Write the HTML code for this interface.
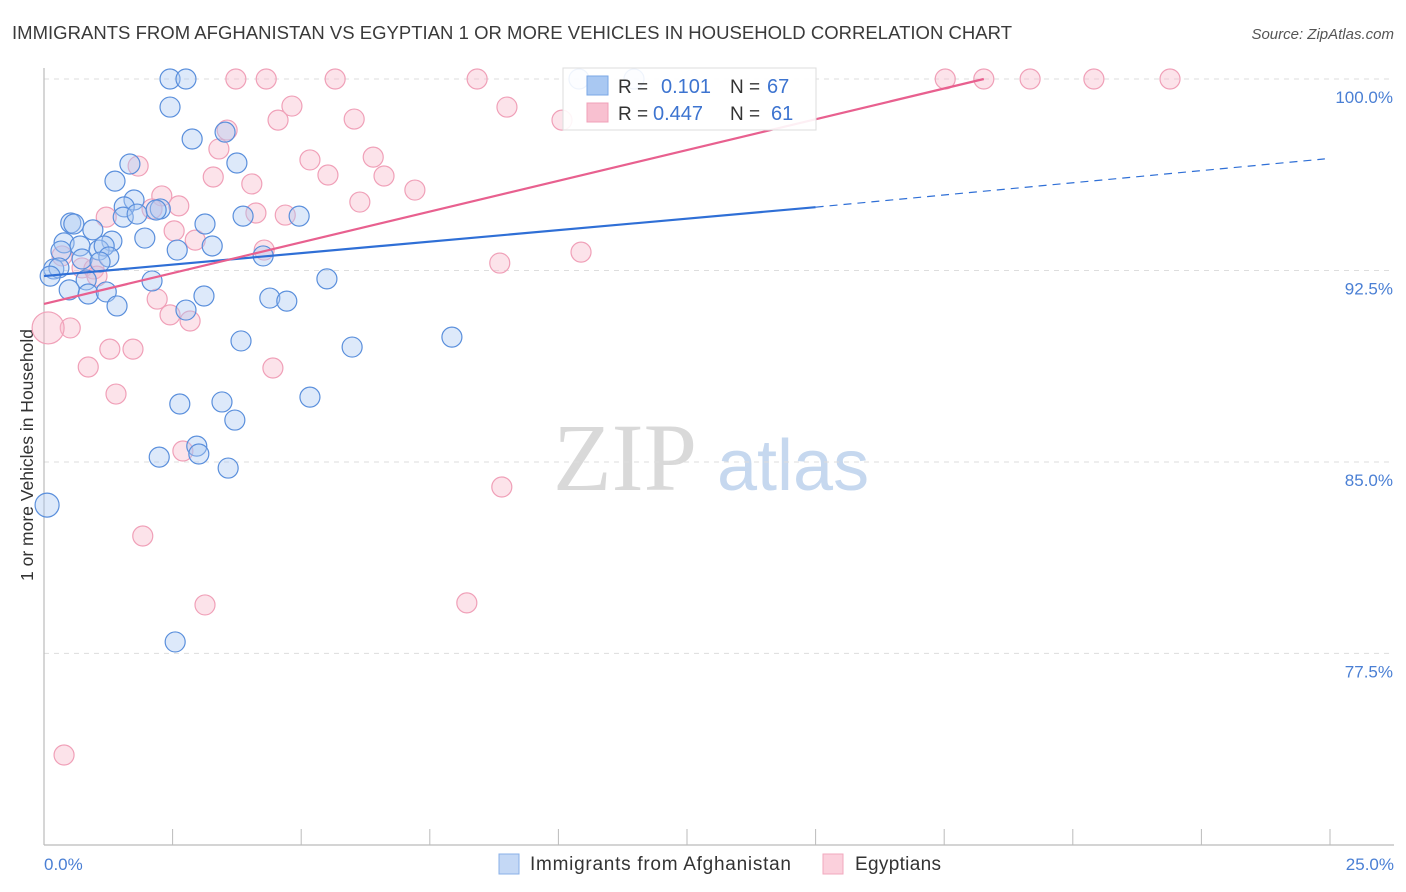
<!DOCTYPE html>
<html><head><meta charset="utf-8"><style>
body{margin:0;background:#fff;font-family:"Liberation Sans",sans-serif;}
</style></head><body>
<svg id="chart" width="1406" height="892" xmlns="http://www.w3.org/2000/svg" style="display:block">
<text x="12" y="39" font-size="18.5" fill="#3a3a3a" textLength="1000">IMMIGRANTS FROM AFGHANISTAN VS EGYPTIAN 1 OR MORE VEHICLES IN HOUSEHOLD CORRELATION CHART</text>
<text x="1394" y="39" font-size="15" fill="#555" font-style="italic" text-anchor="end">Source: ZipAtlas.com</text>
<g>
<text x="553" y="490" font-size="96" font-family="Liberation Serif,serif" fill="#d9d9d9">ZIP</text>
<text x="717" y="490" font-size="72" fill="#c6d8ef">atlas</text>
</g>
<g id="grid"></g>
<line x1="44" y1="68" x2="44" y2="845" stroke="#bbb" stroke-width="1.2"/>
<line x1="44" y1="845" x2="1394" y2="845" stroke="#bbb" stroke-width="1.2"/>
<text transform="translate(33,455) rotate(-90)" font-size="17.5" fill="#333" text-anchor="middle">1 or more Vehicles in Household</text>
<text x="44" y="870" font-size="17" fill="#4a7fd4">0.0%</text>
<text x="1394" y="870" font-size="17" fill="#4a7fd4" text-anchor="end">25.0%</text>
<g id="pts"></g>
<g id="lines"></g>
<g>
<rect x="563" y="68" width="253" height="62" fill="#fff" fill-opacity="0.9" stroke="#ddd"/>
<rect x="587" y="76" width="21" height="19" fill="#a9c8f2" stroke="#7aa7e6"/>
<rect x="587" y="103" width="21" height="19" fill="#f8c0d0" stroke="#f0a0b8"/>
<text x="618" y="93" font-size="19" fill="#333">R =</text><text x="661" y="93" font-size="20" fill="#3d74d0">0.101</text>
<text x="730" y="93" font-size="19" fill="#333">N =</text><text x="767" y="93" font-size="20" fill="#3d74d0">67</text>
<text x="618" y="120" font-size="19" fill="#333">R =</text><text x="653" y="120" font-size="20" fill="#3d74d0">0.447</text>
<text x="730" y="120" font-size="19" fill="#333">N =</text><text x="771" y="120" font-size="20" fill="#3d74d0">61</text>
</g>
<g>
<rect x="499" y="854" width="20" height="20" fill="#c4d8f5" stroke="#8ab0e8"/>
<text x="530" y="870" font-size="19" fill="#333" textLength="261">Immigrants from Afghanistan</text>
<rect x="823" y="854" width="20" height="20" fill="#fbd0dc" stroke="#f2a8be"/>
<text x="855" y="870" font-size="19" fill="#333" textLength="86">Egyptians</text>
</g>
</svg>
<script>
const yTicks=[100,92.5,85,77.5];
const yTickLabels=["100.0%","92.5%","85.0%","77.5%"];
const xTicks=[0,2.5,5,7.5,10,12.5,15,17.5,20,22.5,25];
const blueX=[2.45,2.76,10.40,11.47,2.45,2.88,3.52,3.75,1.67,1.38,1.75,1.56,2.26,1.54,1.81,2.18,3.87,4.96,3.13,0.52,0.58,0.95,0.39,0.70,1.32,1.96,3.27,2.59,1.07,0.33,1.17,0.74,1.26,1.09,4.26,0.19,0.29,0.12,0.82,2.10,5.50,0.49,0.86,1.21,3.11,4.39,4.72,1.42,2.76,3.83,5.99,7.93,5.17,2.64,3.46,3.71,2.97,3.01,2.24,3.58,0.06,2.55];
const blueY=[100,100,100,100,98.90,97.65,97.92,96.71,96.67,96.00,95.26,94.99,94.91,94.59,94.71,94.87,94.63,94.63,94.32,94.36,94.32,94.09,93.58,93.46,93.65,93.77,93.46,93.30,93.30,93.26,93.46,92.95,93.03,92.83,93.07,92.56,92.60,92.28,92.13,92.09,92.17,91.74,91.58,91.66,91.50,91.42,91.30,91.11,90.95,89.74,89.50,89.89,87.54,87.27,87.35,86.64,85.62,85.31,85.19,84.76,83.31,77.95];
const blueSize=[1,1,1,1,1,1,1,1,1,1,1,1,1,1,1,1,1,1,1,1,1,1,1,1,1,1,1,1,1,1,1,1,1,1,1,1,1,1,1,1,1,1,1,1,1,1,1,1,1,1,1,1,1,1,1,1,1,1,1,1,1.2,1];
const pinkX=[3.73,4.32,5.66,8.42,17.52,18.27,19.17,20.41,21.89,4.82,9.00,10.07,4.55,3.56,6.03,3.40,6.40,1.83,5.17,6.61,3.29,4.04,5.52,7.21,2.29,2.62,6.14,2.10,1.21,4.12,4.69,2.53,2.94,4.28,10.44,8.86,0.35,0.74,0.97,1.03,2.20,2.45,2.84,0.51,0.08,1.28,1.73,0.86,4.45,1.40,2.70,8.90,1.92,3.13,8.22,0.39];
const pinkY=[100,100,100,100,100,100,100,100,100,98.94,98.90,98.39,98.39,98.00,98.43,97.26,96.94,96.59,96.83,96.20,96.16,95.89,96.24,95.65,95.42,95.03,95.18,94.91,94.59,94.75,94.67,94.05,93.69,93.30,93.22,92.79,93.07,92.60,92.56,92.28,91.38,90.76,90.52,90.25,90.25,89.42,89.42,88.72,88.68,87.66,85.43,84.02,82.10,79.40,79.48,73.52];
const pinkSize=[1,1,1,1,1,1,1,1,1,1,1,1,1,1,1,1,1,1,1,1,1,1,1,1,1,1,1,1,1,1,1,1,1,1,1,1,1,1,1,1,1,1,1,1,1.6,1,1,1,1,1,1,1,1,1,1,1];
const blueTrend=[0,92.28,15,94.98,24.9,96.87];
const pinkTrend=[0,91.19,18.27,100];
const NS="http://www.w3.org/2000/svg";
const sx=v=>44+v*51.44, sy=v=>79+(100-v)*25.53;
function mk(t,a,p){const e=document.createElementNS(NS,t);for(const k in a)e.setAttribute(k,a[k]);p.appendChild(e);return e;}
const grid=document.getElementById('grid');
yTicks.forEach((v,i)=>{
 const l=mk('line',{x1:44,x2:1394,y1:sy(v),y2:sy(v),stroke:'#ddd','stroke-dasharray':'5,5'},grid);
 
 
 const t=mk('text',{x:1393,y:sy(v)+24,'font-size':17,fill:'#4a7fd4','text-anchor':'end'},grid);
 t.textContent=yTickLabels[i];
 
 
});
xTicks.forEach(v=>{
 const l=mk('line',{x1:sx(v),x2:sx(v),y1:829,y2:845,stroke:'#bbb'},grid);
 
 
});
const pts=document.getElementById('pts');
pinkX.forEach((x,i)=>{
 const c=mk('circle',{cx:sx(x),cy:sy(pinkY[i]),r:10*pinkSize[i],fill:'#f7b8cb','fill-opacity':0.4,stroke:'#f0a0b8','stroke-width':1.2},pts);
 
 
});
blueX.forEach((x,i)=>{
 const c=mk('circle',{cx:sx(x),cy:sy(blueY[i]),r:10*blueSize[i],fill:'#a9c8f2','fill-opacity':0.4,stroke:'#5a8fdc','stroke-width':1.2},pts);
 
 
});
const lines=document.getElementById('lines');
const b1=mk('line',{x1:sx(blueTrend[0]),y1:sy(blueTrend[1]),x2:sx(blueTrend[2]),y2:sy(blueTrend[3]),stroke:'#2f6fd6','stroke-width':2.2},lines);


const b2=mk('line',{x1:sx(blueTrend[2]),y1:sy(blueTrend[3]),x2:sx(blueTrend[4]),y2:sy(blueTrend[5]),stroke:'#2f6fd6','stroke-width':1.2,'stroke-dasharray':'8,6'},lines);


const p1=mk('line',{x1:sx(pinkTrend[0]),y1:sy(pinkTrend[1]),x2:sx(pinkTrend[2]),y2:sy(pinkTrend[3]),stroke:'#e8608f','stroke-width':2.2},lines);


</script>
</body></html>
